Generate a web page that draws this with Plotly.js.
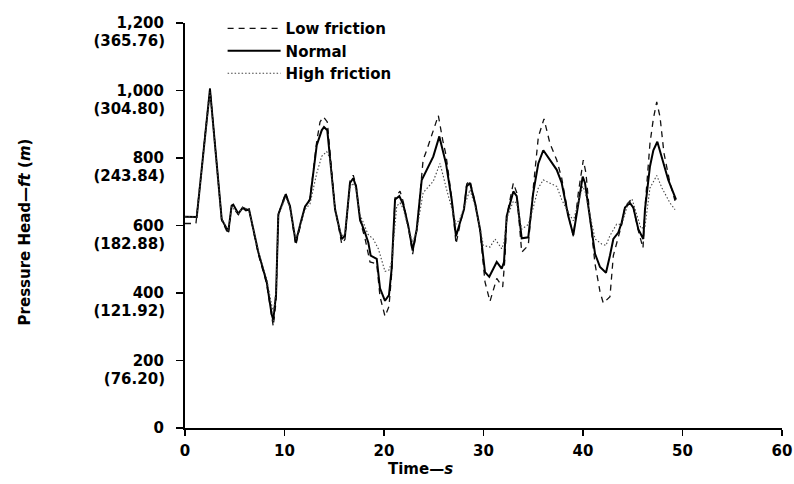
<!DOCTYPE html>
<html>
<head>
<meta charset="utf-8">
<script src="https://cdn.plot.ly/plotly-3.0.1.min.js"></script>
<style>
  html, body { margin: 0; padding: 0; background: #fff; }
  #chart { width: 794px; height: 484px; }
</style>
</head>
<body>
<div id="chart"></div>
<script>
// ---- Data (time in s, pressure head in ft) ----
const seriesNames = ["Low friction", "Normal", "High friction"];

const tLow = [0, 1.1, 2.51, 3.69, 4.35, 4.69, 5.36, 5.8, 6.43, 7.37, 8.21, 8.71, 8.87, 9.15, 9.38, 10.12, 10.55, 11.13, 11.63, 12.06, 12.56, 13.24, 13.57, 13.9, 14.3, 15.08, 15.75, 16.08, 16.58, 16.91, 17.19, 17.59, 18.09, 18.59, 19.27, 19.6, 20.1, 20.5, 20.77, 21.11, 21.61, 21.94, 22.44, 22.88, 23.29, 23.93, 24.29, 24.95, 25.46, 25.9, 26.23, 26.8, 27.24, 27.64, 28.04, 28.31, 28.64, 29.15, 29.65, 30.15, 30.65, 31.33, 31.93, 32.16, 32.36, 33.0, 33.34, 33.84, 34.5, 35.0, 35.51, 36.08, 36.68, 37.36, 37.86, 38.52, 39.03, 39.53, 40.03, 40.3, 40.7, 41.21, 41.71, 42.04, 42.71, 43.05, 43.55, 43.89, 44.22, 44.72, 45.06, 45.56, 46.03, 46.23, 46.73, 47.07, 47.41, 47.74, 48.14, 48.74, 49.25];
const pLow = [606, 606, 1007, 615, 574, 658, 632, 653, 647, 515, 427, 322, 301, 375, 632, 697, 656, 541, 606, 656, 679, 849, 907, 922, 907, 653, 545, 559, 732, 749, 720, 615, 562, 492, 486, 389, 331, 360, 457, 682, 702, 670, 597, 515, 585, 794, 823, 878, 926, 853, 809, 682, 545, 603, 650, 723, 733, 670, 585, 433, 375, 443, 418, 506, 632, 726, 697, 521, 541, 711, 862, 916, 843, 794, 740, 632, 568, 697, 794, 755, 623, 486, 404, 370, 389, 511, 565, 603, 656, 673, 653, 585, 533, 653, 843, 916, 966, 922, 814, 726, 673];

const tNormal = [0, 1.18, 2.51, 3.69, 4.35, 4.69, 4.85, 5.36, 5.8, 6.13, 6.43, 7.37, 8.21, 8.71, 8.87, 9.15, 9.38, 10.12, 10.55, 11.13, 11.63, 12.06, 12.56, 13.24, 13.74, 13.97, 14.3, 15.08, 15.75, 16.08, 16.58, 16.91, 17.19, 17.59, 18.09, 18.42, 18.66, 19.27, 19.6, 20.1, 20.5, 20.77, 21.11, 21.54, 21.94, 22.44, 22.88, 23.29, 23.79, 24.29, 24.95, 25.56, 25.9, 26.23, 26.8, 27.24, 27.64, 28.04, 28.31, 28.64, 29.15, 29.65, 30.15, 30.58, 31.33, 31.83, 32.06, 32.33, 33.0, 33.34, 33.84, 34.5, 35.0, 35.51, 36.01, 36.68, 37.36, 37.86, 38.52, 39.03, 39.53, 39.97, 40.2, 40.7, 41.21, 41.71, 42.31, 42.71, 43.05, 43.55, 43.89, 44.22, 44.72, 45.06, 45.56, 46.06, 46.23, 46.73, 47.07, 47.47, 47.91, 48.57, 49.35];
const pNormal = [626, 625, 1004, 618, 582, 659, 662, 635, 653, 645, 648, 521, 433, 337, 321, 395, 633, 692, 658, 550, 609, 656, 677, 838, 882, 892, 882, 648, 560, 570, 726, 740, 716, 618, 579, 550, 511, 501, 414, 377, 394, 472, 677, 687, 662, 599, 526, 589, 735, 767, 804, 864, 823, 784, 677, 568, 609, 648, 716, 726, 667, 589, 462, 448, 492, 472, 492, 628, 701, 687, 562, 565, 697, 784, 823, 794, 765, 726, 628, 572, 667, 745, 726, 628, 516, 477, 460, 511, 560, 579, 609, 653, 667, 653, 589, 560, 648, 775, 823, 848, 804, 735, 677];

const tHigh = [0, 1.18, 2.51, 3.69, 4.35, 4.69, 5.36, 5.8, 6.43, 7.37, 8.21, 8.71, 8.87, 9.15, 9.38, 10.12, 10.55, 11.13, 11.63, 12.06, 12.56, 13.24, 13.74, 14.24, 14.57, 15.08, 15.75, 16.08, 16.58, 16.91, 17.19, 17.59, 17.92, 18.39, 18.92, 19.43, 20.1, 20.5, 20.77, 21.28, 21.61, 21.94, 22.44, 22.88, 23.29, 23.93, 24.95, 25.63, 26.3, 26.8, 27.24, 27.64, 28.04, 28.64, 29.15, 29.65, 29.98, 30.65, 31.16, 31.83, 32.06, 32.36, 33.0, 33.34, 33.84, 34.5, 35.0, 35.51, 36.01, 36.68, 37.36, 37.86, 38.52, 39.03, 39.53, 39.97, 40.2, 40.7, 41.21, 41.88, 42.31, 42.71, 43.38, 43.89, 44.55, 44.92, 45.33, 45.83, 46.23, 46.73, 47.41, 47.94, 48.74, 49.25];
const pHigh = [626, 625, 995, 620, 585, 656, 635, 653, 647, 524, 442, 360, 339, 404, 629, 685, 653, 559, 606, 647, 664, 755, 805, 819, 799, 644, 568, 577, 711, 726, 708, 632, 609, 574, 560, 531, 464, 468, 492, 658, 667, 650, 591, 550, 585, 697, 731, 784, 706, 653, 604, 620, 653, 706, 658, 594, 541, 536, 560, 531, 550, 623, 672, 667, 589, 603, 653, 711, 735, 726, 716, 677, 638, 614, 667, 716, 702, 632, 560, 545, 541, 570, 604, 603, 667, 679, 638, 591, 597, 711, 748, 711, 667, 647];

// ---- Axis ticks ----
const xTicks = [0, 10, 20, 30, 40, 50, 60];
const yTicks = [0, 200, 400, 600, 800, 1000, 1200];
const yTickFt = ["0", "200", "400", "600", "800", "1,000", "1,200"];
const yTickM = ["", "(76.20)", "(121.92)", "(182.88)", "(243.84)", "(304.80)", "(365.76)"];

const FONT = "DejaVu Sans, Liberation Sans, Arial, sans-serif";
const TXT = { family: FONT, size: 15, color: "#000", weight: "bold" };

const traces = [
  { x: tLow, y: pLow, name: seriesNames[0], mode: "lines", type: "scatter",
    line: { color: "#111", width: 1.3, dash: "6px,5px" } },
  { x: tNormal, y: pNormal, name: seriesNames[1], mode: "lines", type: "scatter",
    line: { color: "#000", width: 2 } },
  { x: tHigh, y: pHigh, name: seriesNames[2], mode: "lines", type: "scatter",
    line: { color: "#444", width: 1.1, dash: "1.5px,2px" } },
  { x: [], y: [], yaxis: "y2", showlegend: false, hoverinfo: "skip", type: "scatter", mode: "lines" }
];

const layout = {
  width: 794, height: 484,
  margin: { l: 185, r: 12, t: 18, b: 56, pad: 0 },
  paper_bgcolor: "#fff", plot_bgcolor: "#fff",
  font: TXT,
  showlegend: true,
  legend: {
    x: 0.063, y: 1.027, xanchor: "left", yanchor: "top",
    bgcolor: "rgba(0,0,0,0)", font: TXT,
    itemwidth: 53, tracegroupgap: 0
  },
  xaxis: {
    range: [0, 60], tickvals: xTicks, ticktext: xTicks.map(String),
    showline: true, linecolor: "#000", linewidth: 2,
    ticks: "outside", ticklen: 6, tickwidth: 1.5, tickcolor: "#000",
    showgrid: false, zeroline: false, ticklabelstandoff: 2,
    tickfont: TXT
  },
  yaxis: {
    range: [0, 1200], tickvals: yTicks, ticktext: yTickFt,
    showline: true, linecolor: "#000", linewidth: 2,
    ticks: "outside", ticklen: 7, tickwidth: 1.5, tickcolor: "#000",
    showgrid: false, zeroline: false, ticklabelstandoff: 9,
    tickfont: TXT
  },
  yaxis2: {
    overlaying: "y", side: "left", anchor: "x",
    range: [0, 1200], tickvals: yTicks, ticktext: yTickM,
    showline: false, showgrid: false, zeroline: false,
    ticks: "outside", ticklen: 7, tickcolor: "rgba(0,0,0,0)",
    ticklabelstandoff: 9, ticklabelshift: 18,
    tickfont: TXT
  },
  annotations: [
    { text: "Pressure Head—<i>ft</i> (<i>m</i>)", xref: "paper", yref: "paper",
      x: -0.268, y: 0.483, textangle: -90, showarrow: false,
      xanchor: "center", yanchor: "middle", font: TXT },
    { text: "Time—<i>s</i>", xref: "paper", yref: "paper",
      x: 0.395, y: -0.102, showarrow: false,
      xanchor: "center", yanchor: "middle", font: TXT }
  ]
};

Plotly.newPlot("chart", traces, layout, { staticPlot: true, displayModeBar: false });
</script>
</body>
</html>
